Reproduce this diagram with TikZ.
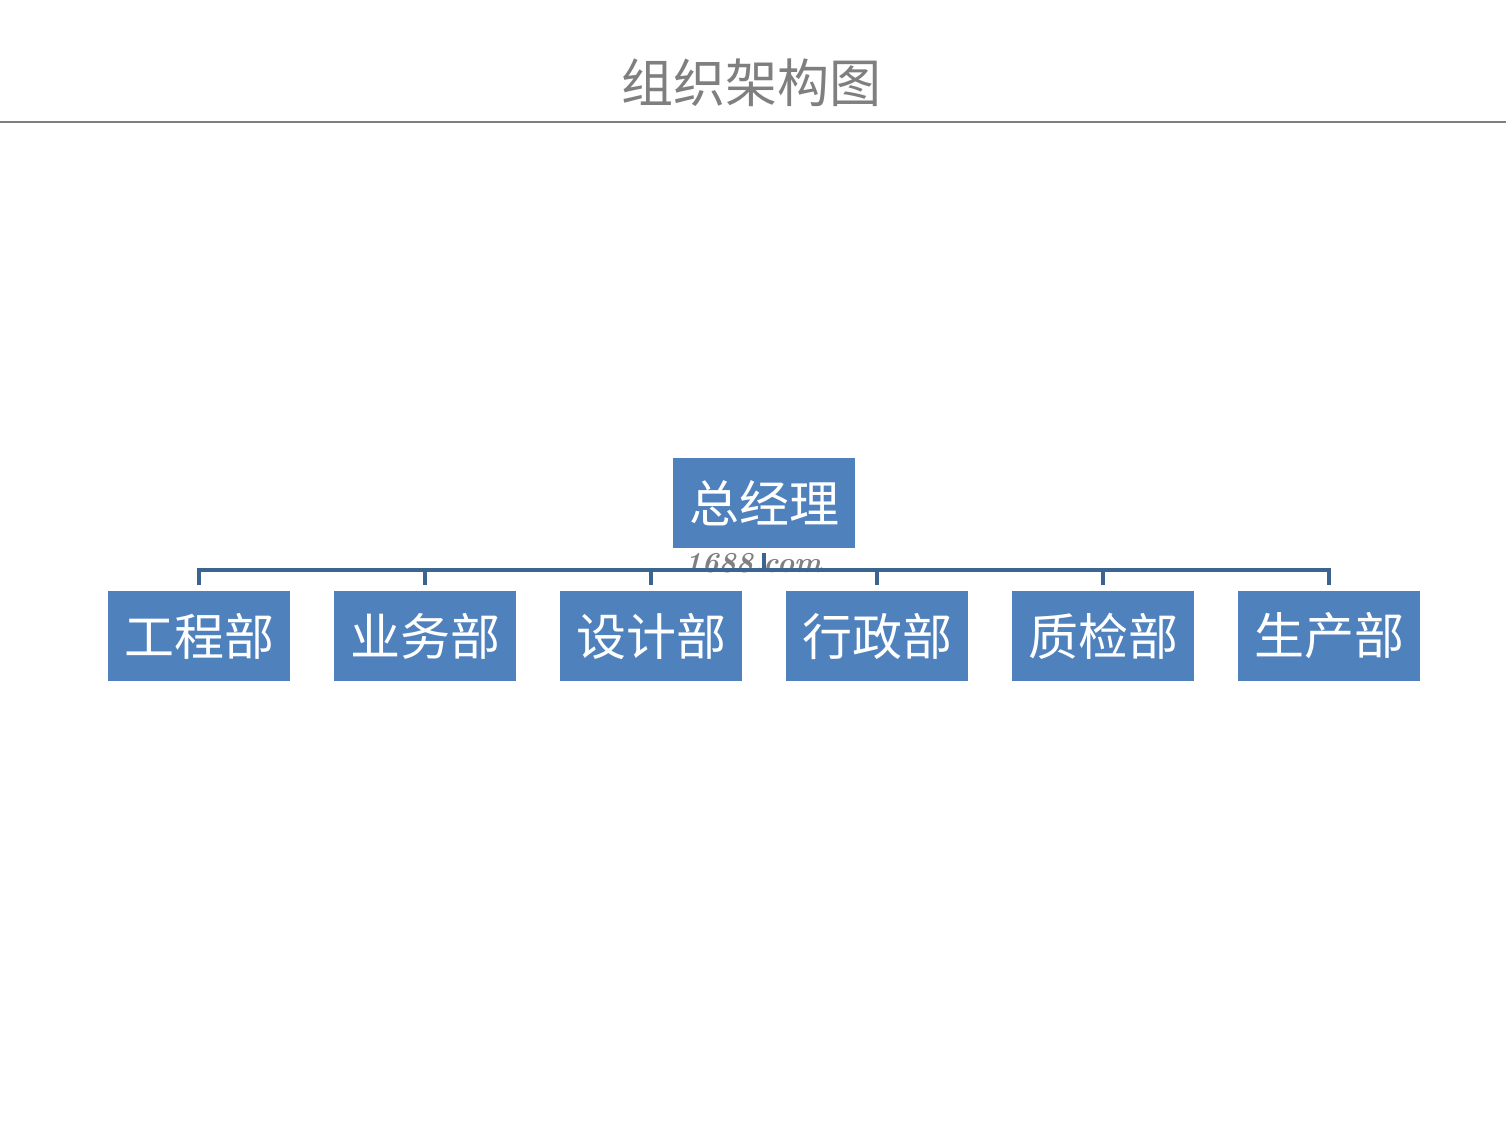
\documentclass[tikz,border=0pt]{standalone}
\usepackage{fontspec}
\newfontfamily\cjk{Noto Sans CJK SC}
\usetikzlibrary{positioning}
\definecolor{boxblue}{HTML}{4F81BD}
\definecolor{linkblue}{HTML}{3C6491}
\definecolor{titlegray}{HTML}{7F7F7F}

\begin{document}
\begin{tikzpicture}[x=0.5pt,y=-0.5pt,node distance=22pt,
  dept/.style={fill=boxblue,text=white,minimum width=91pt,minimum height=45pt,
    inner sep=0pt,outer sep=0pt,font=\cjk\fontsize{25}{25}\selectfont},
  link/.style={draw=linkblue,line width=2pt}]
  \fill[white] (0,0) rectangle (1506,1122);
  \useasboundingbox (0,0) rectangle (1506,1122);
  % title and rule
  \node[font=\cjk\fontsize{26}{26}\selectfont,text=titlegray] (title) at (751,83) {组织架构图};
  \coordinate (rulel) at (0,122);
  \coordinate (ruler) at (1506,122);
  \draw[titlegray,line width=0.6pt] (rulel) -- (ruler);
  % boxes
  \node[dept] (gm) at (764,503) {总经理};
  \node[dept] (eng) at (199,636) {工程部};
  \node[dept,right=of eng] (biz) {业务部};
  \node[dept,right=of biz] (design) {设计部};
  \node[dept,right=of design] (admin) {行政部};
  \node[dept,right=of admin] (qc) {质检部};
  \node[dept,right=of qc] (prod) {生产部};
  \node[font=\bfseries\itshape\fontsize{14.5}{14.5}\selectfont,text=gray] (mark) at (753,563) {1688.com};
  % links
  \coordinate (bus) at (764,570);
  \draw[link,shorten <=2.5pt] (gm) -- (bus);
  \draw[link,shorten >=3pt] (bus) -| (eng);
  \draw[link,shorten >=3pt] (bus) -| (biz);
  \draw[link,shorten >=3pt] (bus) -| (design);
  \draw[link,shorten >=3pt] (bus) -| (admin);
  \draw[link,shorten >=3pt] (bus) -| (qc);
  \draw[link,shorten >=3pt] (bus) -| (prod);
\end{tikzpicture}
\end{document}
